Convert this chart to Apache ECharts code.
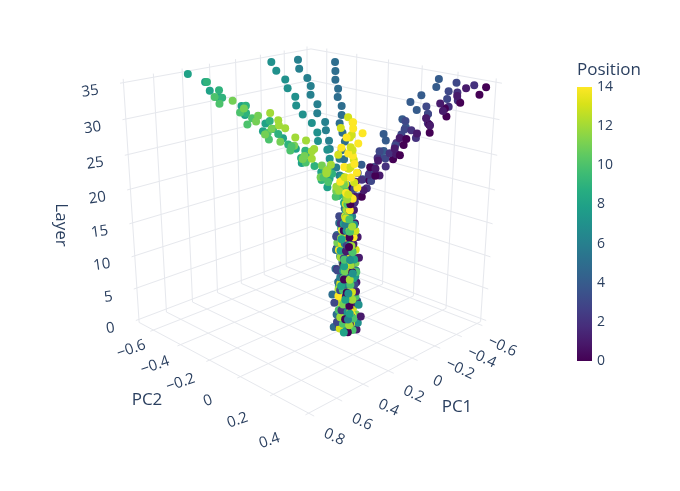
<!DOCTYPE html>
<html><head><meta charset="utf-8">
<script src="https://cdn.jsdelivr.net/npm/echarts@6.0.0/dist/echarts.min.js"></script>
<style>html,body{margin:0;padding:0;background:#fff}#c{width:680px;height:491px}</style>
</head><body><div id="c"></div>
<script>
// ---------------- data ----------------
const LAYERS = [0,1,2,3,4,5,6,7,8,9,10,11,12,13,14,15,16,17,18,19,20,21,22,23,24,25,26,27,28,29,30,31,32,33,34,35];
const POSITIONS = [0,1,2,3,4,5,6,7,8,9,10,11,12,13,14];

const pc1_p0 = [0.05,0.03,0.06,0.02,0.04,0.01,0.05,0.03,0.06,0.02,0.04,0.00,0.03,0.05,0.02,0.04,0.01,0.03,0.02,0.03,-0.02,0.00,-0.08,-0.07,-0.07,-0.17,-0.15,-0.21,-0.20,-0.27,-0.28,-0.36,-0.36,-0.39,-0.47,-0.49];
const pc2_p0 = [0.06,0.04,0.05,0.02,0.06,0.03,0.05,0.01,0.04,0.06,0.02,0.05,0.03,0.06,0.04,0.02,0.05,0.03,0.04,0.05,0.08,0.04,0.08,0.12,0.09,0.15,0.20,0.18,0.20,0.28,0.27,0.31,0.30,0.36,0.41,0.43];
const pc1_p1 = [-0.01,0.02,-0.03,0.01,-0.02,0.03,0.00,-0.03,0.02,-0.01,0.01,-0.02,0.03,0.00,-0.02,0.01,-0.01,0.02,0.00,-0.02,0.01,-0.02,-0.01,-0.09,-0.07,-0.09,-0.15,-0.12,-0.19,-0.21,-0.27,-0.25,-0.31,-0.30,-0.36,-0.40];
const pc2_p1 = [0.07,0.05,0.08,0.04,0.06,0.03,0.07,0.05,0.02,0.06,0.04,0.07,0.03,0.05,0.06,0.02,0.05,0.04,0.05,0.04,0.06,0.09,0.05,0.13,0.12,0.12,0.18,0.19,0.17,0.25,0.28,0.27,0.32,0.31,0.36,0.38];
const pc1_p2 = [0.04,-0.01,0.02,0.05,0.00,0.03,-0.02,0.04,0.01,0.05,-0.01,0.02,0.04,-0.02,0.03,0.01,0.05,0.00,0.02,0.00,0.01,-0.06,-0.06,-0.06,-0.14,-0.13,-0.14,-0.21,-0.25,-0.24,-0.30,-0.33,-0.41,-0.42,-0.43,-0.49];
const pc2_p2 = [0.00,0.03,-0.01,0.02,0.04,-0.02,0.01,0.03,0.00,-0.01,0.03,0.01,-0.02,0.02,0.00,0.04,0.01,0.03,0.02,0.05,0.03,0.08,0.05,0.09,0.13,0.09,0.15,0.14,0.22,0.20,0.25,0.23,0.29,0.33,0.32,0.37];
const pc1_p3 = [0.02,0.06,0.01,0.04,0.07,0.03,0.05,0.00,0.04,0.06,0.02,0.05,0.01,0.04,0.06,0.02,0.03,0.05,0.03,0.01,0.00,0.00,-0.08,-0.04,-0.09,-0.15,-0.13,-0.17,-0.25,-0.23,-0.25,-0.33,-0.33,-0.41,-0.42,-0.47];
const pc2_p3 = [0.03,0.00,0.05,0.02,-0.01,0.04,0.01,0.06,0.02,0.00,0.05,0.03,0.01,0.04,-0.01,0.03,0.02,0.00,0.03,0.01,0.06,0.05,0.09,0.04,0.10,0.12,0.10,0.16,0.14,0.17,0.16,0.23,0.22,0.28,0.28,0.29];
const pc1_p4 = [-0.03,0.00,-0.02,0.02,-0.04,0.01,-0.01,0.03,-0.03,0.00,0.02,-0.02,0.01,-0.03,0.00,0.02,-0.01,0.01,0.00,0.02,-0.02,0.00,-0.07,-0.08,-0.07,-0.16,-0.15,-0.21,-0.19,-0.27,-0.27,-0.36,-0.35,-0.38,-0.46,-0.48];
const pc2_p4 = [0.01,0.04,0.00,0.03,0.05,0.01,0.03,-0.01,0.04,0.02,0.00,0.03,0.05,0.01,0.02,0.04,0.00,0.02,0.03,0.04,0.07,0.02,0.05,0.08,0.04,0.08,0.11,0.08,0.08,0.15,0.13,0.15,0.12,0.16,0.19,0.19];
const pc1_p5 = [0.06,0.02,0.05,0.00,0.03,0.06,0.01,0.04,0.02,0.05,0.00,0.03,0.06,0.02,0.04,0.01,0.05,0.02,0.02,-0.01,0.01,-0.02,-0.02,-0.07,-0.08,-0.10,-0.14,-0.16,-0.19,-0.22,-0.26,-0.28,-0.31,-0.34,-0.38,-0.43];
const pc2_p5 = [-0.02,0.01,-0.01,0.02,0.00,-0.03,0.01,-0.01,0.02,-0.02,0.00,0.01,-0.01,0.02,-0.02,0.01,0.00,0.02,0.01,0.01,0.01,-0.01,-0.04,-0.04,-0.07,-0.10,-0.11,-0.14,-0.18,-0.19,-0.22,-0.26,-0.28,-0.32,-0.35,-0.39];
const pc1_p6 = [0.00,0.03,0.05,-0.01,0.02,0.04,0.00,0.03,0.05,-0.01,0.02,0.04,0.01,0.03,-0.01,0.02,0.04,0.00,0.02,0.02,0.01,-0.02,-0.03,-0.03,-0.07,-0.07,-0.09,-0.13,-0.15,-0.15,-0.19,-0.21,-0.25,-0.26,-0.28,-0.32];
const pc2_p6 = [0.05,0.02,0.06,0.03,0.00,0.05,0.02,0.04,0.01,0.06,0.03,0.00,0.04,0.02,0.05,0.01,0.03,0.04,0.02,0.03,0.00,-0.01,-0.06,-0.08,-0.09,-0.15,-0.17,-0.22,-0.24,-0.29,-0.32,-0.38,-0.41,-0.44,-0.51,-0.55];
const pc1_p7 = [0.03,-0.02,0.01,0.04,-0.01,0.02,0.05,0.00,-0.02,0.03,0.01,0.04,-0.01,0.02,0.00,0.03,0.01,-0.01,0.01,0.00,0.01,0.01,-0.02,-0.01,-0.03,-0.05,-0.04,-0.06,-0.08,-0.07,-0.08,-0.11,-0.11,-0.14,-0.14,-0.16];
const pc2_p7 = [0.04,0.07,0.03,0.05,0.08,0.04,0.06,0.02,0.05,0.07,0.03,0.06,0.04,0.01,0.05,0.03,0.06,0.02,0.03,0.01,0.01,-0.03,-0.04,-0.10,-0.12,-0.15,-0.20,-0.22,-0.27,-0.32,-0.37,-0.40,-0.45,-0.49,-0.55,-0.60];
const pc1_p8 = [0.07,0.04,0.01,0.05,0.02,0.06,0.03,0.07,0.01,0.04,0.06,0.02,0.05,0.03,0.07,0.00,0.04,0.02,0.03,0.04,0.03,0.08,0.05,0.09,0.14,0.10,0.16,0.16,0.24,0.22,0.28,0.26,0.33,0.37,0.36,0.41];
const pc2_p8 = [0.05,0.01,0.04,0.07,0.02,0.05,0.00,0.03,0.06,0.02,0.04,0.07,0.01,0.05,0.03,0.06,0.02,0.04,0.03,0.02,0.02,-0.05,-0.06,-0.08,-0.16,-0.16,-0.18,-0.26,-0.32,-0.32,-0.40,-0.44,-0.53,-0.55,-0.59,-0.66];
const pc1_p9 = [-0.02,0.01,0.04,-0.01,0.03,0.00,0.02,-0.03,0.01,0.04,0.00,-0.02,0.03,0.01,-0.01,0.02,0.00,0.03,0.01,0.00,0.06,0.06,0.10,0.07,0.13,0.17,0.15,0.23,0.22,0.27,0.27,0.35,0.35,0.43,0.44,0.47];
const pc2_p9 = [0.02,-0.01,0.03,0.01,0.04,0.00,-0.02,0.02,0.05,0.01,-0.01,0.03,0.00,0.04,0.02,-0.01,0.03,0.01,0.02,0.01,0.00,0.00,-0.07,-0.03,-0.09,-0.14,-0.13,-0.17,-0.24,-0.23,-0.25,-0.33,-0.33,-0.41,-0.42,-0.47];
const pc1_p10 = [0.01,0.05,0.02,0.06,0.03,-0.01,0.04,0.02,0.05,0.00,0.03,0.06,0.02,-0.01,0.04,0.03,0.00,0.05,0.03,0.04,0.08,0.05,0.10,0.15,0.14,0.21,0.27,0.30,0.34,0.43,0.45,0.51,0.51,0.58,0.64,0.67];
const pc2_p10 = [0.06,0.03,0.07,0.01,0.04,0.06,0.02,0.05,0.03,0.07,0.01,0.04,0.06,0.03,0.00,0.05,0.02,0.06,0.03,0.04,0.00,0.03,-0.03,-0.02,0.00,-0.08,-0.05,-0.10,-0.06,-0.12,-0.11,-0.18,-0.15,-0.16,-0.23,-0.23];
const pc1_p11 = [0.04,0.00,-0.03,0.02,0.05,0.01,-0.02,0.03,0.00,0.04,-0.02,0.01,0.03,0.05,0.00,-0.02,0.02,0.04,0.02,0.02,0.05,0.09,0.07,0.16,0.16,0.19,0.27,0.32,0.32,0.42,0.48,0.48,0.54,0.56,0.62,0.66];
const pc2_p11 = [-0.01,0.02,0.05,0.00,0.03,-0.02,0.04,0.01,-0.01,0.03,0.05,0.00,0.02,-0.01,0.04,0.02,0.00,0.03,0.02,0.01,0.04,0.01,0.04,-0.03,0.00,0.00,-0.05,0.00,-0.06,-0.06,-0.10,-0.06,-0.10,-0.07,-0.10,-0.13];
const pc1_p12 = [0.00,0.04,0.06,0.02,-0.02,0.03,0.05,0.01,0.04,-0.01,0.02,0.05,0.00,0.03,0.06,0.02,0.04,0.01,0.03,0.01,0.07,0.08,0.13,0.11,0.18,0.23,0.24,0.33,0.33,0.39,0.41,0.51,0.53,0.62,0.66,0.70];
const pc2_p12 = [0.04,0.06,0.02,0.05,0.03,0.07,0.00,0.04,0.06,0.02,0.05,0.01,0.03,0.06,0.02,0.04,0.07,0.03,0.03,0.04,0.06,0.02,0.04,0.06,0.02,0.06,0.09,0.05,0.05,0.11,0.08,0.10,0.06,0.10,0.13,0.12];
const pc1_p13 = [0.05,0.01,0.03,-0.02,0.04,0.00,0.02,0.05,-0.01,0.03,0.05,0.01,-0.02,0.04,0.02,0.00,0.03,0.05,0.02,0.04,0.03,0.09,0.06,0.10,0.16,0.13,0.20,0.19,0.28,0.27,0.34,0.32,0.39,0.44,0.44,0.50];
const pc2_p13 = [0.01,0.05,0.02,0.04,0.00,0.03,0.06,0.01,0.03,0.00,0.04,0.02,0.05,0.01,0.03,0.06,0.01,0.04,0.03,0.03,0.05,0.08,0.04,0.12,0.11,0.11,0.17,0.18,0.16,0.23,0.27,0.25,0.31,0.29,0.35,0.37];
const pc1_p14 = [0.02,0.05,-0.01,0.03,0.01,0.05,0.02,-0.02,0.04,0.01,0.03,-0.01,0.05,0.02,0.00,0.04,0.02,0.03,0.02,0.02,0.04,0.08,0.06,0.14,0.14,0.15,0.22,0.24,0.24,0.33,0.38,0.37,0.44,0.44,0.52,0.55];
const pc2_p14 = [0.03,0.00,0.04,0.06,0.02,0.00,0.05,0.03,0.01,0.05,0.02,0.04,0.00,0.03,0.05,0.01,0.04,0.02,0.04,0.02,0.07,0.06,0.11,0.07,0.13,0.17,0.15,0.22,0.21,0.25,0.25,0.33,0.32,0.40,0.41,0.43];

const PC1_BY_POS = [pc1_p0,pc1_p1,pc1_p2,pc1_p3,pc1_p4,pc1_p5,pc1_p6,pc1_p7,pc1_p8,pc1_p9,pc1_p10,pc1_p11,pc1_p12,pc1_p13,pc1_p14];
const PC2_BY_POS = [pc2_p0,pc2_p1,pc2_p2,pc2_p3,pc2_p4,pc2_p5,pc2_p6,pc2_p7,pc2_p8,pc2_p9,pc2_p10,pc2_p11,pc2_p12,pc2_p13,pc2_p14];

const PC1_TICKS = [-0.6,-0.4,-0.2,0,0.2,0.4,0.6,0.8];
const PC2_TICKS = [-0.6,-0.4,-0.2,0,0.2,0.4];
const LAYER_TICKS = [0,5,10,15,20,25,30,35];
const COLOR_TICKS = [0,2,4,6,8,10,12,14];

// ---------------- layout / scene ----------------
const R_PC1 = [-0.636, 0.822];
const R_PC2 = [-0.71, 0.43];
const R_LAYER = [-0.5, 35.5];
const CAM = {p:5, q:2.5, S:969, cx:311, cy:207};
const VIRIDIS = ['#440154','#48186a','#472d7b','#424086','#3b528b','#33638d','#2c728e','#26828e','#21918c','#1fa088','#28ae80','#3fbc73','#5ec962','#84d44b','#addc30','#d8e219','#fde725'];
const TXT = '#2a3f5f';
const FONT = '"Open Sans", "Liberation Sans", Arial, sans-serif';
const DEG = Math.PI/180;

function norm(v, r){ return 2*(v - r[0])/(r[1]-r[0]) - 1; }
function projN(a, b, c){
  const p = CAM.p, q = CAM.q, L2 = 2*p*p + q*q, L = Math.sqrt(L2);
  const D = (L2 - p*(a+b) - q*c)/L;
  const r = (b - a)/Math.SQRT2;
  const u = (-q*(a+b) + 2*p*c)/(Math.SQRT2*L);
  return [CAM.cx + CAM.S*r/D, CAM.cy - CAM.S*u/D, D];
}
function project(x, y, z){ return projN(norm(x,R_PC1), norm(y,R_PC2), norm(z,R_LAYER)); }
function fmt(v){ if (Math.abs(v) < 1e-9) return '0'; const s = String(Math.abs(Math.round(v*10)/10)); return v < 0 ? '\u2212' + s : s; }

// points (drawn far to near)
const pts = [];
POSITIONS.forEach((pos, k) => {
  LAYERS.forEach((layer, i) => {
    const P = project(PC1_BY_POS[k][i], PC2_BY_POS[k][i], layer);
    pts.push([P[0], P[1], pos, P[2]]);
  });
});
pts.sort((u, v) => v[3] - u[3]);

// grid segments on back walls and floor
const segs = [];
function addSeg(A, B){ segs.push({coords: [[A[0],A[1]],[B[0],B[1]]]}); }
PC1_TICKS.forEach(v => { const a = norm(v,R_PC1); addSeg(projN(a,-1,-1), projN(a,1,-1)); addSeg(projN(a,-1,-1), projN(a,-1,1)); });
PC2_TICKS.forEach(v => { const b = norm(v,R_PC2); addSeg(projN(-1,b,-1), projN(1,b,-1)); addSeg(projN(-1,b,-1), projN(-1,b,1)); });
LAYER_TICKS.forEach(v => { const c = norm(v,R_LAYER); addSeg(projN(-1,-1,c), projN(1,-1,c)); addSeg(projN(-1,-1,c), projN(-1,1,c)); });

// tick label anchors (scene coordinates)
const tickLabels = [];
LAYER_TICKS.forEach(v => {
  const P = projN(1,-1,norm(v,R_LAYER)); const w = String(v).length*4.4;
  tickLabels.push({text: String(v), at: [P[0]-21-w, P[1]+8], rot: 8});
});
PC1_TICKS.forEach(v => {
  const P = projN(norm(v,R_PC1),1,-1);
  tickLabels.push({text: fmt(v), at: [P[0]+20, P[1]+21], rot: -25});
});
PC2_TICKS.forEach(v => {
  const f = (v - PC2_TICKS[0])/(PC2_TICKS[PC2_TICKS.length-1] - PC2_TICKS[0]);
  const P = projN(1,norm(v,R_PC2),-1);
  tickLabels.push({text: fmt(v), at: [P[0]-19-17*f, P[1]+18+8*f], rot: 19});
});

const chart = echarts.init(document.getElementById('c'));
chart.setOption({
  animation: false,
  backgroundColor: '#fff',
  grid: {left:0, right:0, top:0, bottom:0},
  xAxis: {type:'value', min:0, max:680, show:false},
  yAxis: {type:'value', min:0, max:491, inverse:true, show:false},
  visualMap: {type:'continuous', show:false, min:0, max:14, dimension:2, seriesIndex:1, inRange:{color: VIRIDIS}},
  series: [
    {type:'lines', coordinateSystem:'cartesian2d', silent:true, z:1, data: segs,
     lineStyle:{color:'#e6e8ed', width:1, opacity:1}},
    {type:'scatter', z:3, symbolSize:8, data: pts, itemStyle:{opacity:1}, silent:true}
  ]
});

// text elements placed through the grid's own coordinate conversion
const graphics = [];
tickLabels.forEach(t => {
  const px = chart.convertToPixel({gridIndex:0}, t.at);
  graphics.push({type:'text', x:px[0], y:px[1], rotation:t.rot*DEG, z:10,
    style:{text:t.text, font:'15px '+FONT, fill:TXT, textAlign:'center', textVerticalAlign:'middle'}});
});
// colorbar
const CB = {x:577, top:87, bottom:361, w:15};
graphics.push({type:'rect', shape:{x:CB.x, y:CB.top, width:CB.w, height:CB.bottom-CB.top},
  style:{fill: new echarts.graphic.LinearGradient(0,1,0,0, VIRIDIS.map((c,i)=>({offset:i/(VIRIDIS.length-1), color:c})))}});
graphics.push({type:'text', x:CB.x, y:70, style:{text:'Position', font:'17px '+FONT, fill:TXT, textAlign:'left', textVerticalAlign:'middle'}});
COLOR_TICKS.forEach(v => {
  const y = CB.bottom - (v/14)*(CB.bottom-CB.top);
  graphics.push({type:'text', x:597, y:y, style:{text:String(v), font:'14px '+FONT, fill:TXT, textAlign:'left', textVerticalAlign:'middle'}});
});
// axis titles
graphics.push({type:'text', x:61, y:225, rotation:-90*DEG, style:{text:'Layer', font:'17px '+FONT, fill:TXT, textAlign:'center', textVerticalAlign:'middle'}});
graphics.push({type:'text', x:147, y:400, style:{text:'PC2', font:'17px '+FONT, fill:TXT, textAlign:'center', textVerticalAlign:'middle'}});
graphics.push({type:'text', x:457, y:407, style:{text:'PC1', font:'17px '+FONT, fill:TXT, textAlign:'center', textVerticalAlign:'middle'}});

chart.setOption({graphic: graphics});
</script>
</body></html>
